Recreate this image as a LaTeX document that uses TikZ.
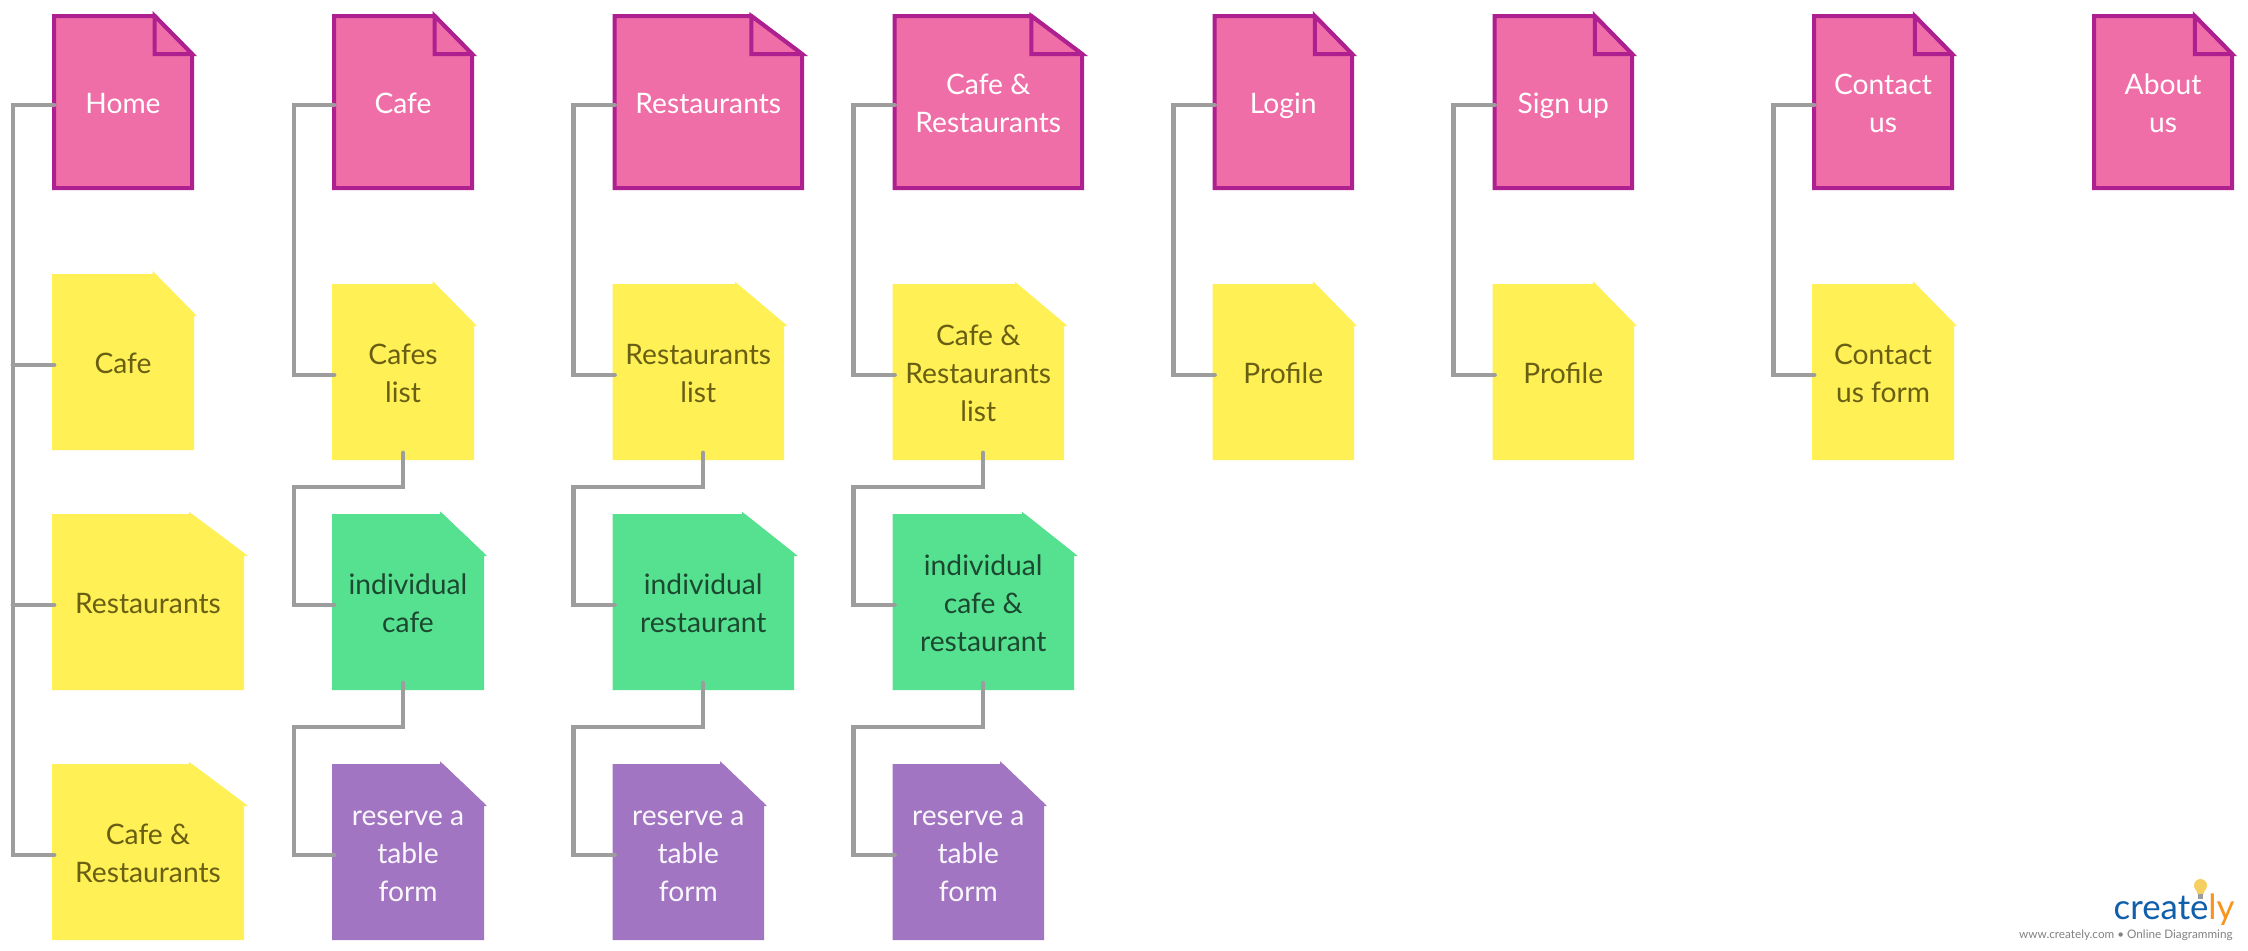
\documentclass[tikz,border=0pt]{standalone}
\usepackage{fontspec}
\setmainfont{Lato}
\definecolor{pinkfill}{RGB}{240,110,167}
\definecolor{pinkline}{RGB}{174,31,144}
\definecolor{yellowfill}{RGB}{255,240,85}
\definecolor{yellowtext}{RGB}{105,95,20}
\definecolor{greenfill}{RGB}{85,225,143}
\definecolor{greentext}{RGB}{28,72,48}
\definecolor{purplefill}{RGB}{162,117,194}
\definecolor{linkgray}{RGB}{157,157,157}
\definecolor{logoblue}{RGB}{15,95,171}
\definecolor{logoorange}{RGB}{247,148,30}
\definecolor{bulb}{RGB}{245,208,97}
\definecolor{logogray}{RGB}{130,130,130}
\tikzset{
  docpink/.style={fill=pinkfill,draw=pinkline,line width=2pt},
  docyellow/.style={fill=yellowfill,draw=yellowfill,line width=2pt},
  docgreen/.style={fill=greenfill,draw=greenfill,line width=2pt},
  docpurple/.style={fill=purplefill,draw=purplefill,line width=2pt},
  labbase/.style={inner sep=0pt,align=center,font=\fontsize{14.1}{19}\selectfont},
  labpink/.style={labbase,text=white},
  labyellow/.style={labbase,text=yellowtext},
  labgreen/.style={labbase,text=greentext},
  labpurple/.style={labbase,text=white!95!purplefill},
  linkline/.style={draw=linkgray,line width=2.4pt,line cap=round,line join=miter},
}
\newcommand{\linestrut}{\rule[-3.95pt]{0pt}{19pt}}
% name, x1, x2, y1, y2, kind, text (outer edges, in reference pixels)
\newcommand{\docpage}[7]{%
  \pgfmathsetmacro{\pL}{#2+2}\pgfmathsetmacro{\pR}{#3-2}%
  \pgfmathsetmacro{\pT}{#4+2}\pgfmathsetmacro{\pB}{#5-2}%
  \pgfmathsetmacro{\fX}{\pR-0.27*(\pR-\pL)}\pgfmathsetmacro{\fY}{\pT+38}%
  \pgfmathsetmacro{\cX}{(#2+#3)/2}\pgfmathsetmacro{\cY}{(#4+#5)/2}%
  \pgfmathsetmacro{\wD}{(#3-#2)*0.5}\pgfmathsetmacro{\hD}{(#5-#4)*0.5}%
  \path[doc#6] (\pL,\pT) -- (\fX,\pT) -- (\pR,\fY) -- (\pR,\pB) -- (\pL,\pB) -- cycle;
  \path[doc#6] (\fX,\pT) -- (\fX,\fY) -- (\pR,\fY) -- cycle;
  \node[lab#6,minimum width=\wD pt,minimum height=\hD pt] (#1) at (\cX,\cY) {\linestrut #7\linestrut};
  \coordinate (#1-in) at (\pL,\cY+3);
  \coordinate (#1-bot) at (\cX,#5-7);
}
\newcommand{\branch}[2]{\draw[linkline] (#1-in) -- (#2 |- #1-in);}
\newcommand{\rail}[3]{\draw[linkline] (#1-in) -- (#3 |- #1-in) -- (#3 |- #2-in) -- (#2-in);}
\newcommand{\stepdown}[4]{\draw[linkline] (#3 |- #1-bot) -- (#3) -- (#4 |- #3) -- (#4 |- #2-in) -- (#2-in);}
\begin{document}
\begin{tikzpicture}[x=0.5pt,y=-0.5pt]
\useasboundingbox (0,0) rectangle (2248,950);
\fill[white] (0,0) rectangle (2248,950);
% column 1
\docpage{home}{52}{194}{14}{190}{pink}{Home}
\docpage{hcafe}{52}{194}{274}{450}{yellow}{Cafe}
\docpage{hrest}{52}{244}{514}{690}{yellow}{Restaurants}
\docpage{hcr}{52}{244}{764}{940}{yellow}{Cafe \&\\Restaurants}
% column 2
\docpage{cafe}{332}{474}{14}{190}{pink}{Cafe}
\docpage{cafes}{332}{474}{284}{460}{yellow}{Cafes\\list}
\docpage{icafe}{332}{484}{514}{690}{green}{individual\\cafe}
\docpage{rcafe}{332}{484}{764}{940}{purple}{reserve a\\table\\form}
% column 3
\docpage{rest}{612.5}{804}{14}{190}{pink}{Restaurants}
\docpage{rests}{612.5}{784}{284}{460}{yellow}{Restaurants\\list}
\docpage{irest}{612.5}{794}{514}{690}{green}{individual\\restaurant}
\docpage{rrest}{612.5}{764}{764}{940}{purple}{reserve a\\table\\form}
% column 4
\docpage{cr}{892.5}{1084}{14}{190}{pink}{Cafe \&\\Restaurants}
\docpage{crs}{892.5}{1064}{284}{460}{yellow}{Cafe \&\\Restaurants\\list}
\docpage{icr}{892.5}{1074}{514}{690}{green}{individual\\cafe \&\\restaurant}
\docpage{rcr}{892.5}{1044}{764}{940}{purple}{reserve a\\table\\form}
% columns 5-8
\docpage{login}{1212.5}{1354}{14}{190}{pink}{Login}
\docpage{lprof}{1212.5}{1354}{284}{460}{yellow}{Profile}
\docpage{signup}{1492.5}{1634}{14}{190}{pink}{Sign up}
\docpage{sprof}{1492.5}{1634}{284}{460}{yellow}{Profile}
\docpage{contact}{1812}{1954}{14}{190}{pink}{Contact\\us}
\docpage{cform}{1812}{1954}{284}{460}{yellow}{Contact\\us form}
\docpage{about}{2092}{2234}{14}{190}{pink}{About\\us}
% routing coordinates
\coordinate (sp1) at (13,0);
\coordinate (sp2) at (294,0);
\coordinate (sp3) at (573.5,0);
\coordinate (sp4) at (853.5,0);
\coordinate (sp5) at (1173.5,0);
\coordinate (sp6) at (1453.5,0);
\coordinate (sp7) at (1773.5,0);
\coordinate (j2a) at (403,487);
\coordinate (j2b) at (403,727);
\coordinate (j3a) at (703,487);
\coordinate (j3b) at (703,727);
\coordinate (j4a) at (983,487);
\coordinate (j4b) at (983,727);
% connectors
\rail{home}{hcr}{sp1}
\branch{hcafe}{sp1}
\branch{hrest}{sp1}
\rail{cafe}{cafes}{sp2}
\stepdown{cafes}{icafe}{j2a}{sp2}
\stepdown{icafe}{rcafe}{j2b}{sp2}
\rail{rest}{rests}{sp3}
\stepdown{rests}{irest}{j3a}{sp3}
\stepdown{irest}{rrest}{j3b}{sp3}
\rail{cr}{crs}{sp4}
\stepdown{crs}{icr}{j4a}{sp4}
\stepdown{icr}{rcr}{j4b}{sp4}
\rail{login}{lprof}{sp5}
\rail{signup}{sprof}{sp6}
\rail{contact}{cform}{sp7}
% logo
\fill[bulb] (2200.5,885.5) ellipse (6.5 and 6.5);
\fill[bulb] (2195.5,888) -- (2205.5,888) -- (2203.5,894) -- (2197.5,894) -- cycle;
\fill[linkgray] (2198,894) rectangle (2203,899);
\node[inner sep=0pt,anchor=base east,font=\fontsize{17.4}{18}\selectfont] (logo) at (2235,919) {\textcolor{logoblue}{create}\textcolor{logoorange}{ly}};
\node[inner sep=0pt,anchor=base east,text=logogray,font=\fontsize{5.87}{8}\selectfont] (tagline) at (2233,938) {www.creately.com • Online Diagramming};
\end{tikzpicture}
\end{document}
